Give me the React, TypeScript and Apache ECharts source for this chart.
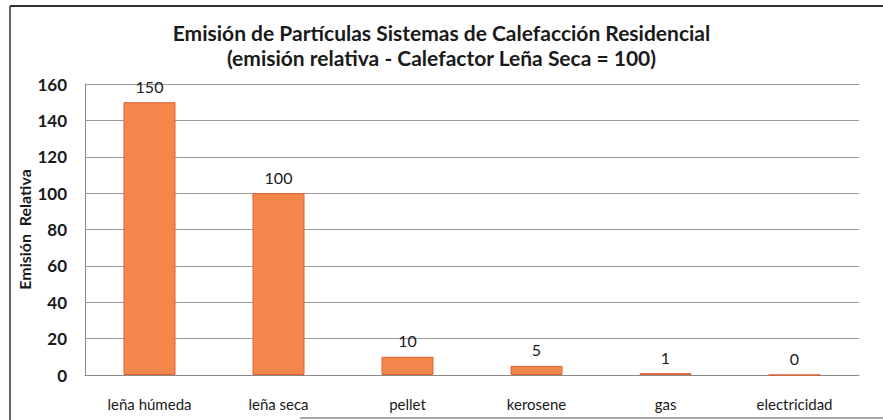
import React, { useEffect, useRef } from "react";
import * as echarts from "echarts";

const categories = ["leña húmeda", "leña seca", "pellet", "kerosene", "gas", "electricidad"];
const values = [150, 100, 10, 5, 1, 0];
const titleLines = [
  "Emisión de Partículas Sistemas de Calefacción Residencial",
  "(emisión relativa - Calefactor Leña Seca = 100)",
];
const yAxisName = "Emisión  Relativa";

export default function App() {
  const ref = useRef<HTMLDivElement>(null);
  useEffect(() => {
    document.body.style.margin = "0";
    const chart = echarts.init(ref.current!, undefined, { renderer: "svg" });
    const font = "Lato, 'Open Sans', sans-serif";
    chart.setOption({
      animation: false,
      backgroundColor: "#ffffff",
      textStyle: { fontFamily: font },
      title: [
        {
          text: titleLines[0],
          left: "center",
          top: 17,
          textStyle: { fontFamily: font, fontSize: 21, fontWeight: "bold", color: "#1a1a1a" },
        },
        {
          text: titleLines[1],
          left: "center",
          top: 42,
          textStyle: { fontFamily: font, fontSize: 21, fontWeight: "bold", color: "#1a1a1a" },
        },
      ],
      grid: { left: 85, right: 24, top: 84, bottom: 45 },
      xAxis: {
        type: "category",
        data: categories,
        axisLine: { show: true, lineStyle: { color: "#8a8a8a", width: 1 } },
        axisTick: { show: false },
        axisLabel: { fontFamily: font, fontSize: 15, color: "#1a1a1a", margin: 21 },
      },
      yAxis: {
        type: "value",
        min: 0,
        max: 160,
        interval: 20,
        name: yAxisName,
        nameLocation: "middle",
        nameGap: 53,
        nameMoveOverlap: false,
        nameTextStyle: { fontFamily: font, fontSize: 16, fontWeight: "bold", color: "#1a1a1a" },
        axisLine: { show: true, lineStyle: { color: "#8a8a8a", width: 1 } },
        axisTick: { show: false },
        axisLabel: { fontFamily: font, fontSize: 17, fontWeight: "bold", color: "#1a1a1a", margin: 18 },
        splitLine: { show: true, lineStyle: { color: "#9a9a9a", width: 1 } },
      },
      series: [
        {
          type: "bar",
          data: values,
          barWidth: 52,
          itemStyle: { color: "#F5874C", borderColor: "#E2602F", borderWidth: 1 },
          label: {
            show: true,
            position: "top",
            distance: 8,
            fontFamily: font,
            fontSize: 16,
            color: "#1a1a1a",
          },
        },
      ],
      graphic: [
        { type: "line", shape: { x1: 10, y1: 6, x2: 883, y2: 6 }, style: { stroke: "#333", lineWidth: 2 } },
        { type: "line", shape: { x1: 10, y1: 6, x2: 10, y2: 420 }, style: { stroke: "#333", lineWidth: 1.5 } },
        { type: "line", shape: { x1: 300, y1: 418, x2: 883, y2: 418 }, style: { stroke: "#888", lineWidth: 1.5 } },
      ],
    });
    return () => chart.dispose();
  }, []);
  return <div ref={ref} style={{ width: 883, height: 420 }} />;
}
